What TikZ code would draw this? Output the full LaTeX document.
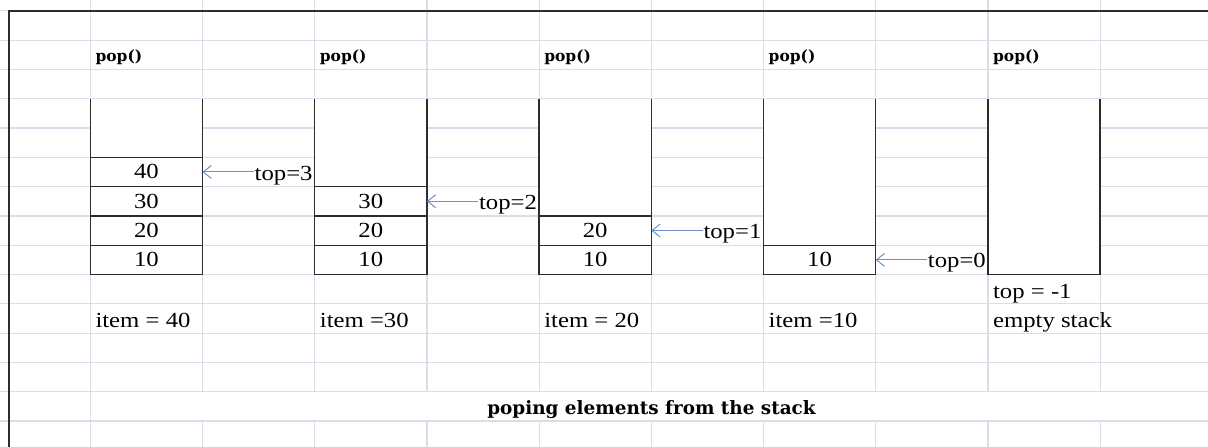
\documentclass[tikz,border=0pt]{standalone}
\usepackage{fontspec}
\setmainfont{Liberation Serif}[FakeStretch=1.15]
\newfontfamily\slabfont{DejaVu Serif}
\usepackage{xcolor}
\usepackage{tikz}
\usetikzlibrary{positioning, arrows.meta}
\definecolor{GridGray}{RGB}{216,221,234}
\definecolor{ArrowBlue}{RGB}{110,145,200}
\definecolor{WallGray}{RGB}{45,45,45}

\begin{document}
\begin{tikzpicture}[
			x=1pt, y=-1pt,
			GridLine/.style={draw=GridGray, line width=1.2pt},
			Border/.style={draw=WallGray, line width=1.4pt},
			Wall/.style={draw=WallGray, line width=1.3pt},
			StackCell/.style={
				rectangle, draw=WallGray, line width=1.3pt, fill=white,
				minimum width=112.2pt, minimum height=29.3pt,
				inner sep=0pt, outer sep=0pt,
				font=\fontsize{21.5}{24}\selectfont
			},
			PopLabel/.style={anchor=base west, inner sep=0pt,
				font=\fontsize{15.5}{18}\slabfont\bfseries},
			TextLabel/.style={anchor=base west, inner sep=0pt,
				font=\fontsize{21.5}{24}\selectfont},
			TopLabel/.style={anchor=base west, inner sep=0.5pt,
				font=\fontsize{21.5}{24}\selectfont},
			TopArrow/.style={draw=ArrowBlue, line width=1pt,
				-{Straight Barb[length=8pt, width=13pt]}},
			TitleLabel/.style={anchor=base, inner sep=0pt,
				font=\fontsize{18.4}{21}\slabfont\bfseries}
			]
			
			% sheet and grid
			\useasboundingbox (0,0) rectangle (1208,447);
			\fill[white] (0,0) rectangle (1208,447);
			\foreach \r in {0,...,14}
				\draw[GridLine] (0,{10.8+29.3*\r}) -- (1208,{10.8+29.3*\r});
			\draw[GridLine] (90.3,0) -- (90.3,447);
			\foreach \c in {1,...,10}
				\draw[GridLine] ({90.3+112.2*\c},0) -- ({90.3+112.2*\c},391.7)
				({90.3+112.2*\c},421) -- ({90.3+112.2*\c},447);
			\draw[Border] (9,447) -- (9,10.8) -- (1208,10.8);
			
			% stack 1
			\fill[white] (90.3,98.7) rectangle (202.5,274.5);
			\draw[Wall] (90.3,98.7) -- (90.3,274.5) -- (202.5,274.5) -- (202.5,98.7);
			\path
			(146.4,259.85) node [StackCell] (S1v10) {10}
			node [StackCell, above=0pt of S1v10] (S1v20) {20}
			node [StackCell, above=0pt of S1v20] (S1v30) {30}
			node [StackCell, above=0pt of S1v30] (S1v40) {40};
			\node [PopLabel] (P1) at (95.3,61) {pop()};
			\node [TextLabel] (I1) at (95.3,327) {item = 40};
			\node [TopLabel] (T1) at (254,180) {top=3};
			\draw[TopArrow] (T1.west |- S1v40.east) -- (S1v40.east);
			
			\begin{scope}[shift={(224.4,0)}]
				% stack 2
				\fill[white] (90.3,98.7) rectangle (202.5,274.5);
				\draw[Wall] (90.3,98.7) -- (90.3,274.5) -- (202.5,274.5) -- (202.5,98.7);
				\path
				(146.4,259.85) node [StackCell] (S2v10) {10}
				node [StackCell, above=0pt of S2v10] (S2v20) {20}
				node [StackCell, above=0pt of S2v20] (S2v30) {30};
				\node [PopLabel] (P2) at (95.3,61) {pop()};
				\node [TextLabel] (I2) at (95.3,327) {item =30};
				\node [TopLabel] (T2) at (254,209.3) {top=2};
				\draw[TopArrow] (T2.west |- S2v30.east) -- (S2v30.east);
			\end{scope}
			
			\begin{scope}[shift={(448.8,0)}]
				% stack 3
				\fill[white] (90.3,98.7) rectangle (202.5,274.5);
				\draw[Wall] (90.3,98.7) -- (90.3,274.5) -- (202.5,274.5) -- (202.5,98.7);
				\path
				(146.4,259.85) node [StackCell] (S3v10) {10}
				node [StackCell, above=0pt of S3v10] (S3v20) {20};
				\node [PopLabel] (P3) at (95.3,61) {pop()};
				\node [TextLabel] (I3) at (95.3,327) {item = 20};
				\node [TopLabel] (T3) at (254,238.6) {top=1};
				\draw[TopArrow] (T3.west |- S3v20.east) -- (S3v20.east);
			\end{scope}
			
			\begin{scope}[shift={(673.2,0)}]
				% stack 4
				\fill[white] (90.3,98.7) rectangle (202.5,274.5);
				\draw[Wall] (90.3,98.7) -- (90.3,274.5) -- (202.5,274.5) -- (202.5,98.7);
				\path
				(146.4,259.85) node [StackCell] (S4v10) {10};
				\node [PopLabel] (P4) at (95.3,61) {pop()};
				\node [TextLabel] (I4) at (95.3,327) {item =10};
				\node [TopLabel] (T4) at (254,267.9) {top=0};
				\draw[TopArrow] (T4.west |- S4v10.east) -- (S4v10.east);
			\end{scope}
			
			\begin{scope}[shift={(897.6,0)}]
				% stack 5, empty
				\fill[white] (90.3,98.7) rectangle (202.5,274.5);
				\draw[Wall] (90.3,98.7) -- (90.3,274.5) -- (202.5,274.5) -- (202.5,98.7);
				\node [PopLabel] (P5) at (95.3,61) {pop()};
				\node [TextLabel] (E5) at (95.3,298) {top = -1};
				\node [TextLabel] (I5) at (95.3,327) {empty stack};
			\end{scope}
			
			\node [TitleLabel] (Title) at (651.5,414) {poping elements from the stack};
		\end{tikzpicture}
\end{document}
